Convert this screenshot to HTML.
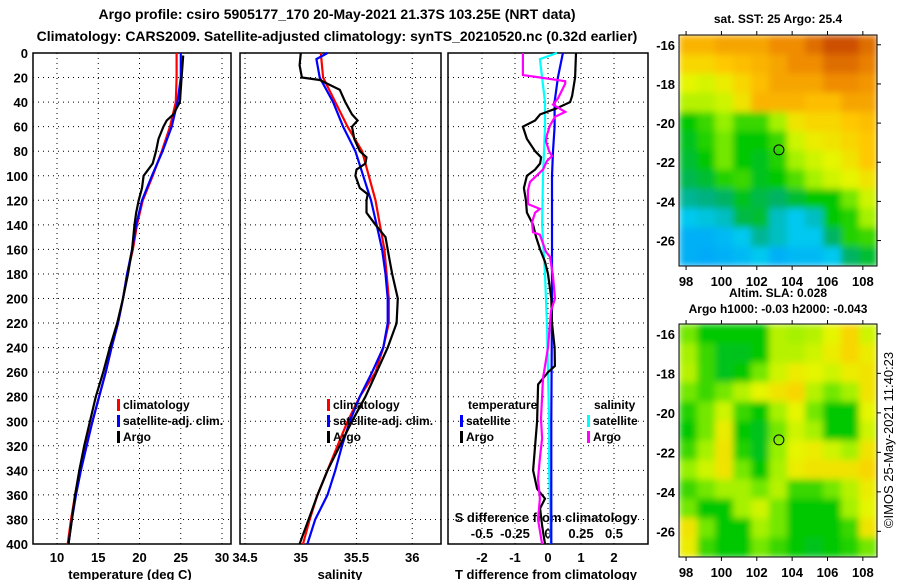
<!DOCTYPE html>
<html><head><meta charset="utf-8"><style>
body{margin:0;background:#fff}
svg{display:block;font-family:"Liberation Sans",sans-serif;font-weight:bold}
</style></head><body>
<svg id="chart" width="900" height="580" viewBox="0 0 900 580">
<defs>
<filter id="blur" x="0" y="0" width="1" height="1"><feGaussianBlur stdDeviation="3.5" edgeMode="duplicate"/></filter>
<clipPath id="clip1"><rect x="679" y="35" width="198" height="231"/></clipPath>
<clipPath id="clip2"><rect x="679" y="324" width="198" height="233"/></clipPath>
</defs>
<g id="g"></g>
<text x="337" y="19" text-anchor="middle" font-size="14">Argo profile: csiro 5905177_170 20-May-2021 21.37S 103.25E (NRT data)</text>
<text x="337" y="41" text-anchor="middle" font-size="14">Climatology: CARS2009. Satellite-adjusted climatology: synTS_20210520.nc (0.32d earlier)</text>
<text x="778" y="23" text-anchor="middle" font-size="12">sat. SST: 25 Argo: 25.4</text>
<text x="778" y="297" text-anchor="middle" font-size="12">Altim. SLA: 0.028</text>
<text x="778" y="313" text-anchor="middle" font-size="12">Argo h1000: -0.03 h2000: -0.043</text>
<text transform="translate(893,440) rotate(-90)" text-anchor="middle" font-size="13" font-weight="normal">©IMOS 25-May-2021 11:40:23</text>
</svg>
<script>
const depthTicks=[0,20,40,60,80,100,120,140,160,180,200,220,240,260,280,300,320,340,360,380,400];
const tempTicks=[10,15,20,25,30];
const salTicks=[34.5,35,35.5,36];
const tdiffTicks=[-2,-1,0,1,2];
const sdiffTicks=[-0.5,-0.25,0,0.25,0.5];
const sdiffLabels=["-0.5","-0.25","0","0.25","0.5"];
const lonTicks=[98,100,102,104,106,108];
const latTicks=[-16,-18,-20,-22,-24,-26];

const climDepth=[0,20,40,60,80,100,120,140,160,180,200,220,240,260,280,300,320,340,360,380,400];
const climTemp=[24.5,24.5,24.4,23.7,22.7,21.6,20.4,19.7,19.2,18.5,18.0,17.4,16.6,15.9,15.1,14.3,13.5,12.8,12.2,11.7,11.3];
const satTemp=[25.0,25.0,24.6,23.9,22.8,21.5,20.3,19.6,19.1,18.5,18.0,17.4,16.6,15.9,15.1,14.3,13.6,12.9,12.3,11.8,11.4];
const argoTDepth=[2,20,40,50,55,60,70,80,90,100,110,120,130,140,160,180,200,220,240,260,280,300,320,340,360,380,400];
const argoTemp=[25.3,25.1,24.9,24.1,23.3,22.9,22.3,22.0,21.6,20.5,20.3,19.9,19.6,19.4,19.1,18.6,18.0,17.3,16.4,15.6,14.7,14.0,13.3,12.7,12.2,11.8,11.4];

const climSal=[35.18,35.20,35.31,35.42,35.55,35.61,35.67,35.71,35.75,35.77,35.79,35.79,35.74,35.67,35.53,35.42,35.33,35.24,35.15,35.08,35.02];
const satDepth=[0,5,20,40,60,80,100,120,140,160,180,200,220,240,260,280,300,320,340,360,380,400];
const satSal=[35.24,35.14,35.17,35.29,35.38,35.49,35.56,35.63,35.68,35.73,35.76,35.78,35.78,35.74,35.64,35.53,35.44,35.37,35.31,35.24,35.13,35.06];
const argoSDepth=[0,10,20,22,30,40,50,55,60,70,80,85,90,95,100,110,115,120,130,140,150,160,170,180,200,220,240,260,280,300,320,340,360,380,400];
const argoSal=[35.00,34.99,35.01,35.17,35.35,35.40,35.46,35.51,35.46,35.48,35.53,35.59,35.58,35.50,35.49,35.53,35.60,35.59,35.59,35.67,35.76,35.78,35.80,35.82,35.87,35.86,35.78,35.68,35.58,35.46,35.35,35.24,35.15,35.07,34.99];

const satTDiffDepth=[0,20,40,60,80,100,120,140,200,300,360,400];
const satTDiff=[0.45,0.3,0.2,0.2,0.15,0.12,0.12,0.12,0.12,0.1,0.1,0.1];
const argoTDiffDepth=[0,20,35,40,45,50,55,60,70,80,85,90,95,100,110,120,130,140,150,160,170,180,200,220,240,255,260,270,300,320,340,355,363,371,385,400];
const argoTDiff=[0.85,0.82,0.73,0.67,0.27,-0.24,-0.39,-0.76,-0.64,-0.39,-0.21,-0.24,-0.39,-0.64,-0.73,-0.67,-0.64,-0.45,-0.36,-0.24,-0.09,0,0.1,0.12,0.2,0.21,0,-0.3,-0.33,-0.39,-0.45,-0.33,-0.09,-0.24,-0.18,-0.09];
const satSDiffDepth=[0,5,20,40,60,80,100,140,180,220,260,300,340,400];
const satSDiff=[0.068,-0.061,-0.045,-0.023,-0.023,-0.03,-0.038,-0.045,-0.023,-0.008,0,0.008,0.008,0.023];
const argoSDiffDepth=[0,18,20,23,25,37,42,48,52,59,67,72,80,84,88,95,105,112,123,127,130,138,146,148,162,166,182,200,210,240,265,298,314,330,347,363,380,400];
const argoSDiff=[-0.19,-0.19,-0.06,0.13,0.13,0.076,0.038,0.13,0.053,0.015,-0.008,-0.015,0.008,0.03,-0.008,-0.038,-0.136,-0.152,-0.152,-0.061,-0.098,-0.121,-0.114,-0.061,-0.015,0.015,0.038,0.053,0.023,0,-0.038,-0.053,-0.045,-0.061,-0.076,-0.061,-0.076,-0.045];

const sstGrid=[
[.82,.82,.85,.85,.85,.9,.9,.95,1,1,.95],
[.75,.75,.78,.8,.82,.85,.9,.9,.95,.95,.92],
[.68,.66,.7,.75,.8,.85,.85,.85,.9,.9,.88],
[.62,.62,.65,.72,.82,.82,.82,.8,.8,.85,.85],
[.45,.5,.58,.5,.5,.6,.72,.75,.75,.78,.8],
[.42,.48,.55,.45,.45,.5,.65,.7,.72,.75,.78],
[.4,.45,.55,.45,.42,.48,.6,.65,.68,.72,.78],
[.37,.4,.48,.5,.42,.45,.52,.6,.65,.68,.72],
[.3,.32,.35,.42,.38,.35,.4,.45,.45,.55,.65],
[.2,.22,.25,.38,.4,.25,.2,.25,.45,.48,.6],
[.12,.12,.15,.2,.3,.25,.2,.2,.35,.48,.5],
[.12,.1,.12,.15,.2,.12,.15,.15,.2,.35,.4]];
const slaGrid=[
[.55,.45,.45,.45,.45,.62,.6,.62,.68,.75,.65],
[.6,.5,.42,.42,.45,.62,.62,.65,.7,.75,.7],
[.62,.5,.42,.45,.55,.65,.7,.68,.65,.7,.72],
[.55,.5,.55,.62,.68,.72,.75,.62,.55,.6,.72],
[.48,.55,.65,.5,.45,.6,.68,.55,.45,.45,.68],
[.45,.55,.7,.45,.42,.55,.65,.6,.45,.45,.65],
[.5,.6,.72,.48,.42,.58,.68,.7,.65,.6,.72],
[.58,.65,.72,.55,.45,.6,.7,.72,.72,.72,.75],
[.5,.55,.6,.6,.55,.62,.5,.5,.55,.62,.7],
[.55,.45,.45,.6,.65,.55,.45,.45,.45,.6,.68],
[.72,.55,.45,.45,.6,.55,.45,.45,.45,.5,.72],
[.7,.5,.45,.45,.55,.5,.45,.42,.45,.48,.55]];
const floatLon=103.25, floatLat=-21.37;

const NS="http://www.w3.org/2000/svg";
const g=document.getElementById('g');
function el(t,a,parent){const e=document.createElementNS(NS,t);for(const k in a)e.setAttribute(k,a[k]);(parent||g).appendChild(e);return e;}
function txt(x,y,s,size,anchor){const e=el('text',{x:x,y:y,'font-size':size||12,'text-anchor':anchor||'middle'});e.textContent=s;return e;}

const yD=d=>53+d*1.2275;
const xT=t=>57+(t-10)*8.25;
const xS=s=>245+(s-34.5)*111.5;
const xTD=t=>548+t*33;
const xSD=s=>548+s*132;
const panels=[{x0:33,x1:231,name:'temperature'},{x0:240,x1:441,name:'salinity'},{x0:448,x1:648,name:'difference'}];

function grid(p,xs){
  depthTicks.forEach((d,i)=>{if(i>0&&i<depthTicks.length-1){const l=el('line',{x1:p.x0,x2:p.x1,y1:yD(d),y2:yD(d),stroke:'#000','stroke-width':1,'stroke-dasharray':'1,4'});
  
  }});
  xs.forEach(x=>{const l=el('line',{x1:x,x2:x,y1:yD(0),y2:yD(400),stroke:'#000','stroke-width':1,'stroke-dasharray':'1,4'});
  
  });
  const r=el('rect',{x:p.x0,y:yD(0),width:p.x1-p.x0,height:yD(400)-yD(0),fill:'none',stroke:'#000','stroke-width':1.5});
  
  
}
grid(panels[0],tempTicks.map(xT));
grid(panels[1],salTicks.map(xS));
grid(panels[2],tdiffTicks.map(xTD));

depthTicks.forEach(d=>{const t=txt(28,yD(d)+5,String(d),13,'end');

});
tempTicks.forEach(v=>{const t=txt(xT(v),562,String(v),13);

});
salTicks.forEach(v=>{const t=txt(xS(v),562,String(v),13);

});
tdiffTicks.forEach(v=>{const t=txt(xTD(v),562,String(v),13);

});
sdiffTicks.forEach((v,i)=>{const t=txt(xSD(v),538,sdiffLabels[i],13);

});
let t;
t=txt(130,579,'temperature (deg C)',13);
t=txt(340,579,'salinity',13);
t=txt(546,579,'T difference from climatology',13);
t=txt(546,522,'S difference from climatology',13);

function line(vals,depths,xf,color,name){
  const pts=vals.map((v,i)=>xf(v).toFixed(1)+','+yD(depths[i]).toFixed(1)).join(' ');
  const p=el('polyline',{points:pts,fill:'none',stroke:color,'stroke-width':2.2,'stroke-linejoin':'miter'});
  
  
}
line(climTemp,climDepth,xT,'#f00','temp-climatology-line');
line(satTemp,climDepth,xT,'#00f','temp-satellite-line');
line(argoTemp,argoTDepth,xT,'#000','temp-argo-line');
line(climSal,climDepth,xS,'#f00','sal-climatology-line');
line(satSal,satDepth,xS,'#00f','sal-satellite-line');
line(argoSal,argoSDepth,xS,'#000','sal-argo-line');
line(satSDiff,satSDiffDepth,xSD,'#0ff','sdiff-satellite-line');
line(satTDiff,satTDiffDepth,xTD,'#00f','tdiff-satellite-line');
line(argoTDiff,argoTDiffDepth,xTD,'#000','tdiff-argo-line');
line(argoSDiff,argoSDiffDepth,xSD,'#f0f','sdiff-argo-line');

function legend(x,y,color,label){
  const m=el('rect',{x:x,y:y-10,width:3,height:12,fill:color});
  
  
  const t=txt(x+6,y,label,12,'start');
  
  
}
legend(117,409,'#f00','climatology');legend(117,425,'#00f','satellite-adj. clim.');legend(117,441,'#000','Argo');
legend(327,409,'#f00','climatology');legend(327,425,'#00f','satellite-adj. clim.');legend(327,441,'#000','Argo');
t=txt(468,409,'temperature',12,'start');
legend(460,425,'#00f','satellite');legend(460,441,'#000','Argo');
t=txt(594,409,'salinity',12,'start');
legend(587,425,'#0ff','satellite');legend(587,441,'#f0f','Argo');

const cstops=[[0,[0,140,255]],[0.2,[0,200,240]],[0.33,[0,175,120]],[0.45,[0,200,0]],[0.58,[150,240,0]],[0.68,[230,245,0]],[0.78,[255,200,0]],[0.9,[240,140,0]],[1,[205,80,0]]];
function cmap(v){for(let i=1;i<cstops.length;i++){if(v<=cstops[i][0]){const a=cstops[i-1],b=cstops[i];const f=(v-a[0])/(b[0]-a[0]);const c=a[1].map((q,k)=>Math.round(q+(b[1][k]-q)*f));return 'rgb('+c+')';}}return 'rgb(205,80,0)';}
const lonX=(lon,m)=>m.x0+(lon-97.6)*(m.x1-m.x0)/11.2;
const latY=(lat,m)=>m.y0+(-15.5-lat)*(m.y1-m.y0)/11.8;
function drawMap(grid,m){
  const rows=grid.length,cols=grid[0].length,cw=(m.x1-m.x0)/cols,rh=(m.y1-m.y0)/rows;
  const clipG=el('g',{'clip-path':'url(#'+m.clip+')'});
  
  
  const blurG=el('g',{filter:'url(#blur)'},clipG);
  grid.forEach((row,r)=>row.forEach((v,c)=>{
    const cell=el('rect',{x:(m.x0+c*cw).toFixed(2),y:(m.y0+r*rh).toFixed(2),width:(cw+0.6).toFixed(2),height:(rh+0.6).toFixed(2),fill:cmap(v)},blurG);
    
    
  }));
  const f=el('rect',{x:m.x0,y:m.y0,width:m.x1-m.x0,height:m.y1-m.y0,fill:'none',stroke:'#000','stroke-width':1});
  
  
  lonTicks.forEach(lon=>{const x=lonX(lon,m);
    el('line',{x1:x,x2:x,y1:m.y0-4,y2:m.y0,stroke:'#000'});el('line',{x1:x,x2:x,y1:m.y1,y2:m.y1+4,stroke:'#000'});
    const t=txt(x,m.y1+20,String(lon),13);
    
    });
  latTicks.forEach(lat=>{const y=latY(lat,m);
    el('line',{x1:m.x1,x2:m.x1+4,y1:y,y2:y,stroke:'#000'});
    const t=txt(675,y+5,String(lat),13,'end');
    
    });
  const c=el('circle',{cx:lonX(floatLon,m),cy:latY(floatLat,m),r:5,fill:'none',stroke:'#000','stroke-width':1});
  
  
}
drawMap(sstGrid,{x0:679,x1:877,y0:35,y1:266,name:'sst-map',clip:'clip1'});
drawMap(slaGrid,{x0:679,x1:877,y0:324,y1:557,name:'sla-map',clip:'clip2'});
</script>
</body></html>
